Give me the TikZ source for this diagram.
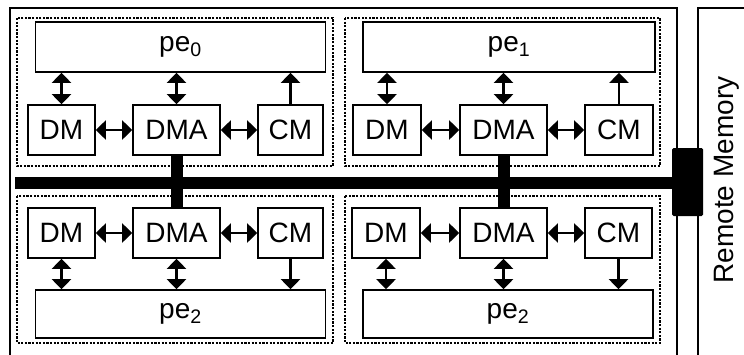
\documentclass[tikz,border=0pt]{standalone}
\usepackage{fontspec}
\setmainfont{Liberation Sans}
\usetikzlibrary{arrows.meta}

\tikzset{
  unit/.style = {draw, line width=1.7pt, minimum height=50pt, inner sep=0pt,
                 font=\fontsize{28}{30}\selectfont},
  pebox/.style = {unit, minimum width=290pt},
  frame/.style = {line width=1.2pt, dash pattern=on 2.2pt off 1.4pt},
  link/.style = {line width=2.7pt, {Triangle[width=19pt,length=10pt]}-{Triangle[width=19pt,length=10pt]}},
  oneway/.style = {line width=2.7pt, -{Triangle[width=19pt,length=10pt]}}
}

\begin{document}
\begin{tikzpicture}[x=1pt, y=-1pt]
  \useasboundingbox (0,0) rectangle (744,354);
  \clip (0,0) rectangle (744,354);

  % chip and remote memory outlines
  \draw[line width=2pt] (10,8) rectangle (677,370);
  \draw[line width=2pt] (698,8) rectangle (770,370);
  \node[rotate=90, font=\fontsize{28}{30}\selectfont] (rmlabel) at (727,180) {Remote Memory};

  % core groups
  \draw[frame] (17,18) rectangle (333,166);
  \draw[frame] (345,18) rectangle (660,166);
  \draw[frame] (17,196) rectangle (333,343);
  \draw[frame] (345,196) rectangle (660,343);

  % upper left
  \node[pebox] (pe0) at (180.5,47) {pe\textsubscript{0}};
  \node[unit, minimum width=67pt] (dm0) at (61.5,130) {DM};
  \node[unit, minimum width=87pt] (dma0) at (176.5,130) {DMA};
  \node[unit, minimum width=65pt] (cm0) at (290.5,130) {CM};
  \draw[link] (dm0) -- (dma0);
  \draw[link] (dma0) -- (cm0);
  \draw[link] (dm0.north) -- (dm0.north |- pe0.south);
  \draw[link] (dma0.north) -- (dma0.north |- pe0.south);
  \draw[oneway] (cm0.north) -- (cm0.north |- pe0.south);

  % upper right
  \node[pebox, minimum width=292pt] (pe1) at (509,47) {pe\textsubscript{1}};
  \node[unit, minimum width=68pt] (dm1) at (387,130) {DM};
  \node[unit, minimum width=87pt] (dma1) at (503.5,130) {DMA};
  \node[unit, minimum width=68pt] (cm1) at (619,130) {CM};
  \draw[link] (dm1) -- (dma1);
  \draw[link] (dma1) -- (cm1);
  \draw[link] (dm1.north) -- (dm1.north |- pe1.south);
  \draw[link] (dma1.north) -- (dma1.north |- pe1.south);
  \draw[oneway] (cm1.north) -- (cm1.north |- pe1.south);

  % lower left
  \node[pebox, minimum height=48pt] (pe2) at (180.5,314) {pe\textsubscript{2}};
  \node[unit, minimum width=67pt] (dm2) at (61.5,233) {DM};
  \node[unit, minimum width=87pt] (dma2) at (176.5,233) {DMA};
  \node[unit, minimum width=65pt] (cm2) at (290.5,233) {CM};
  \draw[link] (dm2) -- (dma2);
  \draw[link] (dma2) -- (cm2);
  \draw[link] (dm2.south) -- (dm2.south |- pe2.north);
  \draw[link] (dma2.south) -- (dma2.south |- pe2.north);
  \draw[oneway] (cm2.south) -- (cm2.south |- pe2.north);

  % lower right
  \node[pebox, minimum height=48pt] (pe3) at (508,314) {pe\textsubscript{2}};
  \node[unit, minimum width=68pt] (dm3) at (386,233) {DM};
  \node[unit, minimum width=87pt] (dma3) at (503.5,233) {DMA};
  \node[unit, minimum width=67pt] (cm3) at (618.5,233) {CM};
  \draw[link] (dm3) -- (dma3);
  \draw[link] (dma3) -- (cm3);
  \draw[link] (dm3.south) -- (dm3.south |- pe3.north);
  \draw[link] (dma3.south) -- (dma3.south |- pe3.north);
  \draw[oneway] (cm3.south) -- (cm3.south |- pe3.north);

  % bus and port to remote memory
  \node[fill=black, rounded corners=1.5pt, minimum width=31pt, minimum height=68pt,
        inner sep=0pt] (port) at (687.5,182) {};
  \coordinate (busend) at (15,183);
  \draw[line width=12pt] (busend) -- (busend -| port.west);
  \draw[line width=12pt] (dma0.south) -- (dma2.north);
  \draw[line width=12pt] (dma1.south) -- (dma3.north);
\end{tikzpicture}
\end{document}
